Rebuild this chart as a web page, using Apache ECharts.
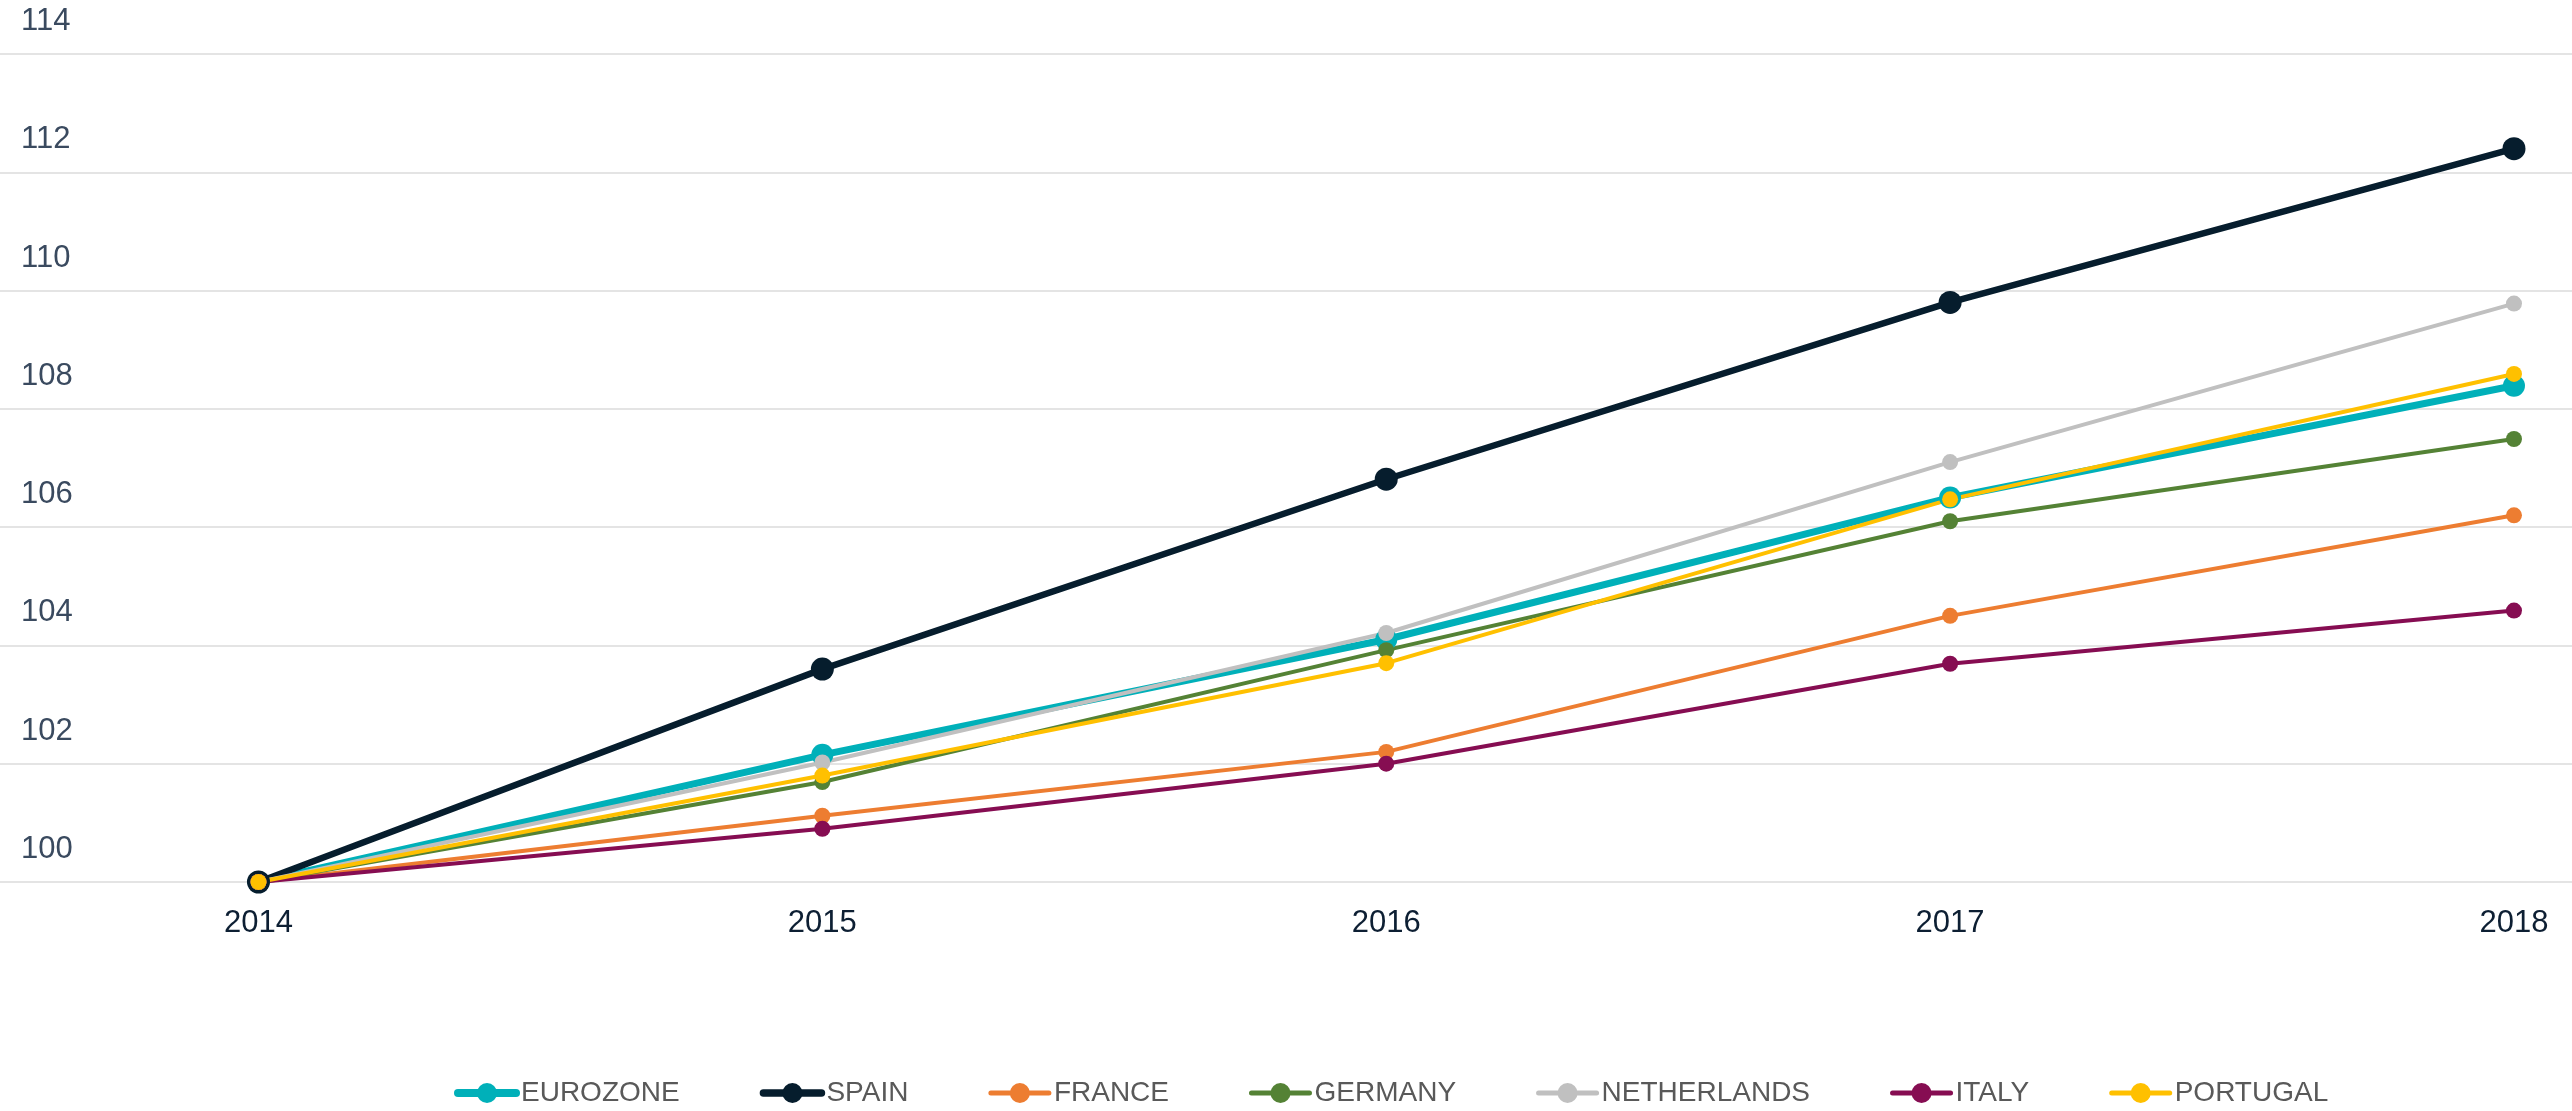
<!DOCTYPE html>
<html>
<head>
<meta charset="utf-8">
<title>Index 2014 = 100</title>
<script src="https://cdn.jsdelivr.net/npm/echarts@6/dist/echarts.min.js"></script>
<style>
    html, body { margin: 0; padding: 0; background: #fff; }
    #chart { width: 2572px; height: 1111px; }
</style>
</head>
<body>
<div id="chart"></div>
<script>
// years on the x axis
const years = [2014, 2015, 2016, 2017, 2018]
// y ticks
const yTicks = [100, 102, 104, 106, 108, 110, 112, 114]

// series values (index, 2014 = 100)
const eurozone = [100, 102.15, 104.1, 106.5, 108.39]
const spain = [100, 103.6, 106.81, 109.8, 112.4]
const france = [100, 101.12, 102.2, 104.5, 106.2]
const germany = [100, 101.69, 103.92, 106.1, 107.49]
const netherlands = [100, 102.02, 104.21, 107.1, 109.78]
const italy = [100, 100.9, 102.0, 103.69, 104.59]
const portugal = [100, 101.8, 103.7, 106.47, 108.59]

const font = '"Liberation Sans", Arial, sans-serif'

let chart = echarts.init(document.getElementById('chart'))

let legendData = []

// build one line series (+ its legend entry)
function line(name, vals, color, width, size) {
    legendData.push({
        name: name,
        lineStyle: { width: width + 1, color: color, cap: 'round' },
    })
    return {
        name: name,
        type: 'line',
        data: years.map((y, i) => [y, vals[i]]),
        symbol: 'circle',
        symbolSize: size,
        showAllSymbol: true,
        color: color,
        itemStyle: { color: color },
        lineStyle: { color: color, width: width, cap: 'round' },
        emphasis: { disabled: true },
    }
}

let series = [
    line('EUROZONE', eurozone, '#00b0b9', 7, 22),
    line('SPAIN', spain, '#061d2d', 6.5, 23),
    line('FRANCE', france, '#ed7d31', 4, 16),
    line('GERMANY', germany, '#548235', 4, 16),
    line('NETHERLANDS', netherlands, '#c0c0c0', 4, 16),
    line('ITALY', italy, '#860d52', 4, 16),
    line('PORTUGAL', portugal, '#ffc000', 4, 16),
]

let option = {
    animation: false,
    backgroundColor: '#fff',
    grid: { left: 0, right: 0, top: 54, bottom: 229 },
    legend: {
        left: 449,
        top: 1074,
        itemWidth: 58,
        itemHeight: 25,
        itemGap: 80,
        data: legendData,
        textStyle: { color: '#595959', fontSize: 28, fontFamily: font },
    },
    xAxis: {
        type: 'value',
        min: 2013.5416,
        max: 2018.1029,
        axisLine: { show: false },
        axisTick: { show: false },
        splitLine: { show: false },
        axisLabel: {
            customValues: years,
            formatter: v => String(v),
            color: '#0d1f33',
            fontSize: 31,
            fontFamily: font,
            margin: 26,
        },
    },
    yAxis: {
        type: 'value',
        min: 100,
        max: 114,
        interval: 2,
        axisLine: { show: false },
        axisTick: { show: false },
        splitLine: { lineStyle: { color: '#e4e4e4', width: 2 } },
        axisLabel: {
            inside: true,
            margin: 21,
            verticalAlign: 'bottom',
            padding: [0, 0, 17, 0],
            color: '#3a4a5f',
            fontSize: 31,
            fontFamily: font,
            customValues: yTicks,
        },
    },
    series: series,
}

chart.setOption(option)
</script>
</body>
</html>
